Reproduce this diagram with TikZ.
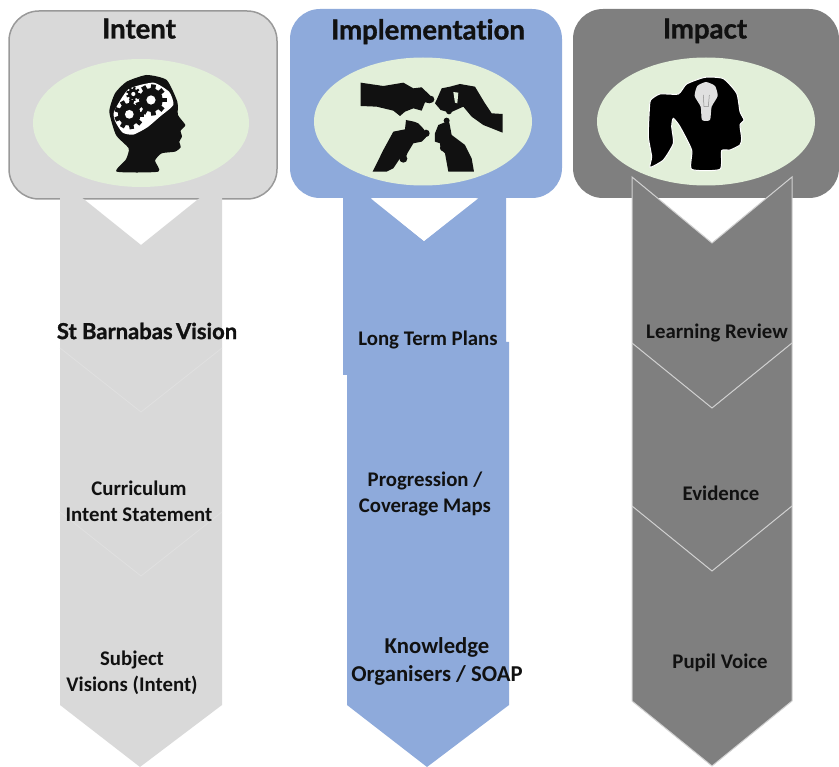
\documentclass[tikz,border=0pt]{standalone}
\usepackage{fontspec}
\setmainfont{Carlito}
\newfontfamily\headfont[Ligatures=NoCommon,BoldFeatures={FakeBold=1.2}]{Lato}
\usepackage{tikz}
\definecolor{panelgrey}{HTML}{D9D9D9}
\definecolor{panelblue}{HTML}{8EAADB}
\definecolor{paneldark}{HTML}{7F7F7F}
\definecolor{ovalgreen}{HTML}{E2EFD9}
\definecolor{inkblack}{HTML}{111111}
\newcommand{\gear}[3]{
        \fill[inkblack] (#1,#2) circle (#3*0.85);
        \foreach \a in {0,40,...,320}
                \fill[inkblack,shift={(#1,#2)},rotate=\a] (#3*0.7,-#3*0.17) rectangle (#3*1.12,#3*0.17);
        \fill[white] (#1,#2) circle (#3*0.33);
}

\begin{document}
\begin{tikzpicture}[x=1pt,y=-1pt,
        panel/.style={rounded corners=30pt},
        oval/.style={fill=ovalgreen},
        heading/.style={font=\headfont\bfseries\fontsize{27.5}{30}\selectfont,text=inkblack,inner sep=0pt,anchor=base},
        subheading/.style={font=\headfont\bfseries\fontsize{22}{24}\selectfont,text=inkblack,inner sep=0pt},
        stage/.style={font=\bfseries\fontsize{20.8}{26}\selectfont,text=inkblack,align=center,inner sep=0pt},
        ink/.style={fill=inkblack},
        organic/.style={smooth cycle,tension=0.35}]
        \useasboundingbox (0,0) rectangle (839,767);

        % panels
        \draw[panel,fill=panelgrey,draw=black!40,line width=1.5pt] (9,11) rectangle (277,199);
        \fill[panel,panelblue] (290,9) rectangle (562,198);
        \fill[panel,paneldark] (573,9) rectangle (839,198);
        \fill[oval] (141,123) ellipse (108 and 64);
        \fill[oval] (423,121.5) ellipse (109 and 64);
        \fill[oval] (706,121.5) ellipse (109 and 64);

        % arrows
        \fill[panelgrey] (60,180) -- (141,245) -- (222,180) -- (222,705) -- (140,767) -- (60,705) -- cycle;
        \draw[black!12,line width=0.8pt] (60,348) -- (141,412) -- (222,348);
        \draw[black!12,line width=0.8pt] (60,512) -- (141,576) -- (222,512);
        \fill[panelblue] (343,175) -- (424,241) -- (506,175) -- (506,342) -- (509,342) -- (509,705) -- (427,767) -- (347,705) -- (347,375) -- (343,375) -- cycle;
        \fill[white] (371,198.5) -- (424,241) -- (478,198.5) -- cycle;
        \draw[fill=paneldark,draw=black!18,line width=1pt] (632,177) -- (712,243) -- (792,177) -- (792,701) -- (712,766) -- (632,701) -- cycle;
        \draw[black!18,line width=1pt] (632,343) -- (712,408) -- (792,343);
        \draw[black!18,line width=1pt] (632,506) -- (712,571) -- (792,506);

        % head with gears
        \begin{scope}[shift={(90,70)},scale=0.3333]
                \fill[ink] plot[organic] coordinates {(80,305) (108,268) (116,235) (78,195) (58,125) (75,70) (110,35) (170,15) (230,30) (262,95) (264,135) (286,165) (272,182) (276,200) (268,215) (272,232) (255,245) (215,250) (195,272) (205,305)};
                \fill[white] plot[organic] coordinates {(72,125) (115,58) (190,38) (238,66) (250,105) (212,138) (172,172) (130,194) (98,188) (76,155)};
                \gear{118}{133}{40}
                \gear{183}{90}{42}
                \gear{130}{72}{19}
        \end{scope}

        % hands with puzzle pieces
        \begin{scope}[shift={(350,70)},scale=0.3333]
                \fill[ink] (32,38) -- (100,48) -- (160,38) -- (190,55) -- (215,52) -- (240,76) -- (240,100) -- (225,97) -- (215,122) -- (190,115) -- (165,125) -- (150,138) -- (130,122) -- (80,110) -- (32,108) -- cycle;
                \fill[ink] (242,88) circle (11);
                \fill[ink] (262,85) -- (275,55) -- (300,50) -- (330,42) -- (375,50) -- (405,100) -- (425,130) -- (458,132) -- (458,188) -- (400,165) -- (365,140) -- (340,110) -- (300,128) -- (272,120) -- (255,100) -- cycle;
                \fill[ink] (297,124) circle (9);
                \fill[ovalgreen] (310,66) -- (325,68) -- (322,100) -- (315,98) -- cycle;
                \fill[ink] (68,305) -- (100,240) -- (130,185) -- (165,178) -- (168,150) -- (192,155) -- (205,160) -- (222,178) -- (228,202) -- (215,215) -- (190,220) -- (172,250) -- (165,270) -- (150,265) -- (130,295) -- (110,305) -- cycle;
                \fill[ink] (228,190) circle (11);
                \fill[ink] (160,266) circle (12);
                \fill[ink] (255,190) -- (265,165) -- (282,158) -- (298,158) -- (305,195) -- (345,225) -- (365,265) -- (372,305) -- (295,305) -- (285,250) -- (272,238) -- (270,220) -- (255,215) -- cycle;
                \fill[ink] (290,152) circle (9);
                \fill[ink] (280,234) circle (10);
        \end{scope}

        % head with ponytail
        \begin{scope}[shift={(640,70)},scale=0.3333]
                \draw[white,line width=1pt,fill=black] plot[organic] coordinates {(195,22) (250,26) (290,70) (300,125) (312,150) (300,165) (305,205) (300,225) (270,240) (245,242) (240,298) (155,298) (155,240) (120,170) (100,145) (95,170) (100,220) (70,270) (30,292) (35,260) (25,200) (28,120) (32,90) (60,72) (115,72) (140,42)};
                \fill[black!12] plot[organic] coordinates {(198,36) (225,48) (233,78) (215,110) (210,150) (186,150) (182,110) (164,78) (172,48)};
                \draw[black!45,line width=0.5pt] (190,75) -- (192,110) -- (205,110) -- (208,75);
        \end{scope}

        % headings
        \node[heading] (intent) at (139,38.5) {Intent};
        \node[heading] (implementation) at (428,39.5) {Implementation};
        \node[heading] (impact) at (705,38.5) {Impact};

        % stages
        \node[subheading] (vision) at (147,331) {St Barnabas\kern-2pt\ Vision};
        \node[stage] (statement) at (139,501) {Curriculum\\Intent Statement};
        \node[stage] (subject) at (132,673) {Subject\\Visions (Intent)};
        \node[stage] (plans) at (428,340) {Long Term Plans};
        \node[stage] (maps) at (425,494) {Progression /\\Coverage Maps};
        \node[stage,font=\bfseries\fontsize{22.7}{28}\selectfont] (organisers) at (437,661) {Knowledge\\Organisers / SOAP};
        \node[stage] (review) at (717,333) {Learning Review};
        \node[stage] (evidence) at (721,493) {Evidence};
        \node[stage] (voice) at (720,663) {Pupil Voice};
\end{tikzpicture}
\end{document}
